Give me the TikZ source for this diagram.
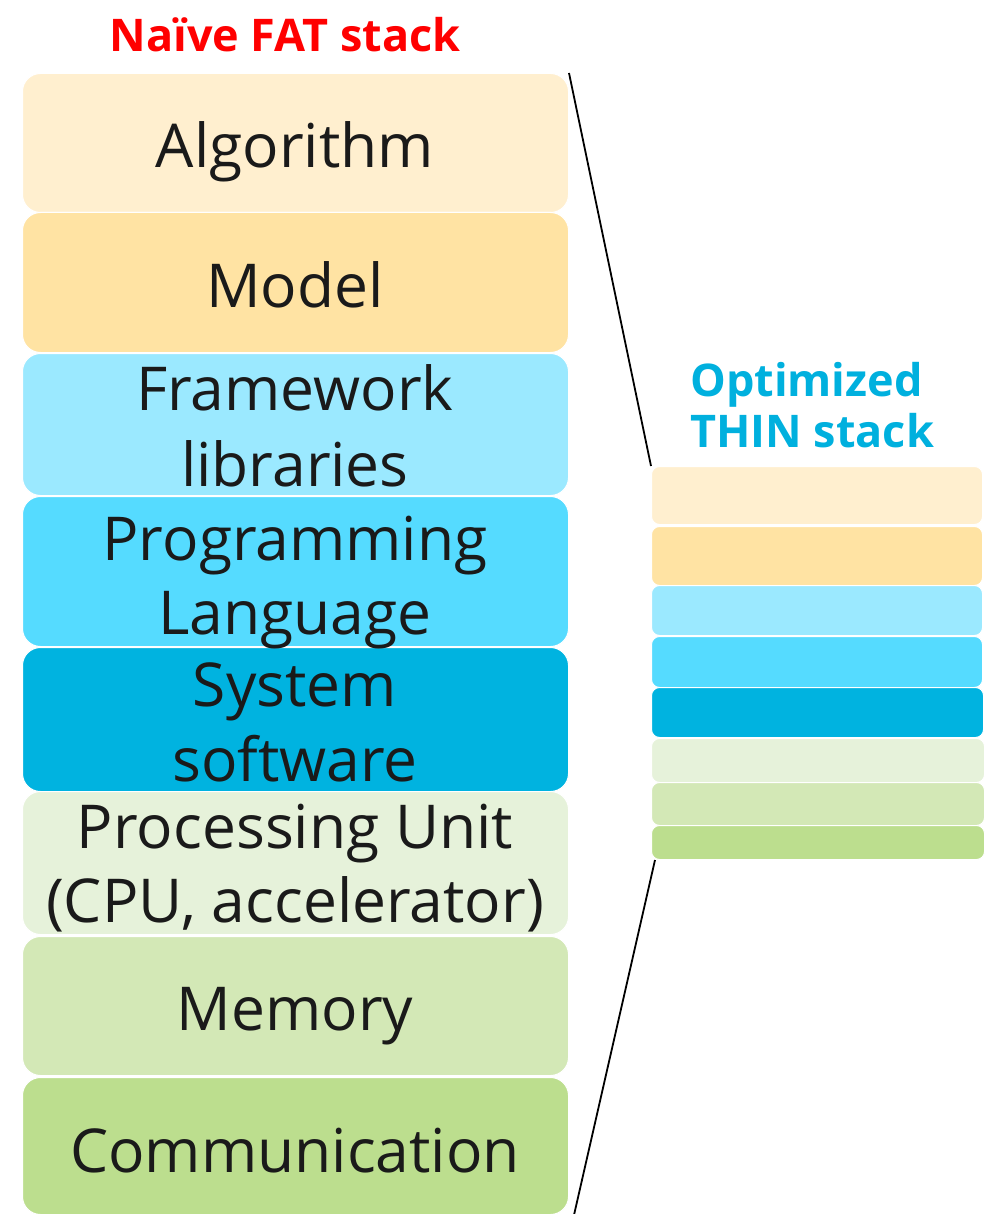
\documentclass[tikz,border=0pt]{standalone}
\usepackage{fontspec}
\setmainfont{Open Sans}
\usetikzlibrary{calc}

% layer colours, top to bottom
\definecolor{algc}{HTML}{FFEFCF}
\definecolor{modc}{HTML}{FFE3A3}
\definecolor{fwc}{HTML}{9BE9FF}
\definecolor{progc}{HTML}{55DBFF}
\definecolor{sysc}{HTML}{00B3E0}
\definecolor{procc}{HTML}{E6F2DA}
\definecolor{memc}{HTML}{D3E8B6}
\definecolor{commc}{HTML}{BCDE8E}
\definecolor{txtc}{HTML}{1A1A1A}
\definecolor{fatred}{HTML}{FF0000}
\definecolor{thinblue}{HTML}{00B0DE}

\begin{document}
\begin{tikzpicture}[x=1pt,y=-1pt,
  fatbox/.style={rectangle, rounded corners=18pt, draw=white, line width=1pt,
    minimum width=546pt, inner sep=0pt, anchor=north west},
  thinbox/.style={rectangle, rounded corners=8pt, draw=white, line width=1pt,
    inner sep=0pt, anchor=north west},
  lbl/.style={font=\fontsize{60.5}{73}\selectfont, text=txtc, anchor=base, inner sep=0pt},
  title/.style={font=\fontsize{45}{52}\selectfont\bfseries, inner sep=0pt, anchor=base},
  link/.style={draw=black, line width=1.8pt}
]
\useasboundingbox (0,0) rectangle (988,1214);

% fat stack
\node[fatbox, fill=algc,  minimum height=139pt] (alg)  at (22,73)   {};
\node[fatbox, fill=modc,  minimum height=140pt] (mod)  at (22,212)  {};
\node[fatbox, fill=fwc,   minimum height=142pt] (fw)   at (22,353)  {};
\node[fatbox, fill=progc, minimum height=150pt] (prog) at (22,496)  {};
\node[fatbox, fill=sysc,  minimum height=144pt] (sys)  at (22,647)  {};
\node[fatbox, fill=procc, minimum height=143pt] (proc) at (22,791)  {};
\node[fatbox, fill=memc,  minimum height=139pt] (mem)  at (22,936)  {};
\node[fatbox, fill=commc, minimum height=137pt] (comm) at (22,1077) {};

% layer labels
\node[lbl] (alg-t)   at (295,168)  {Algorithm};
\node[lbl] (mod-t)   at (295,307)  {Model};
\node[lbl] (fw-t1)   at (295,410)  {Framework};
\node[lbl] (fw-t2)   at (295,486)  {libraries};
\node[lbl] (prog-t1) at (295,560)  {Programming};
\node[lbl] (prog-t2) at (295,634)  {Language};
\node[lbl] (sys-t1)  at (295,706)  {System};
\node[lbl] (sys-t2)  at (295,781)  {software};
\node[lbl] (proc-t1) at (295,848)  {Processing Unit};
\node[lbl] (proc-t2) at (295,922)  {(CPU, accelerator)};
\node[lbl] (mem-t)   at (295,1030) {Memory};
\node[lbl] (comm-t)  at (295,1172) {Communication};

% thin stack
\node[thinbox, fill=algc,  minimum width=331pt, minimum height=58pt] (r1) at (651,466) {};
\node[thinbox, fill=modc,  minimum width=331pt, minimum height=59pt] (r2) at (651,526) {};
\node[thinbox, fill=fwc,   minimum width=331pt, minimum height=50pt] (r3) at (651,585) {};
\node[thinbox, fill=progc, minimum width=331pt, minimum height=51pt] (r4) at (651,636) {};
\node[thinbox, fill=sysc,  minimum width=332pt, minimum height=50pt] (r5) at (651,687) {};
\node[thinbox, fill=procc, minimum width=333pt, minimum height=44pt] (r6) at (651,738) {};
\node[thinbox, fill=memc,  minimum width=333pt, minimum height=43pt] (r7) at (651,782) {};
\node[thinbox, fill=commc, minimum width=333pt, minimum height=34pt] (r8) at (651,825) {};

% titles
\node[title, text=fatred] (fat-title) at (285,52) {Naïve FAT stack};
\node[title, text=thinblue, anchor=base west] (thin-t1) at (690,396) {Optimized};
\node[title, text=thinblue, anchor=base west] (thin-t2) at (690,447) {THIN stack};

% zoom lines
\draw[link] (alg.north east) -- (r1.north west);
\draw[link] ([xshift=4pt]r8.south west) -- ([xshift=5pt]comm.south east);
\end{tikzpicture}
\end{document}
